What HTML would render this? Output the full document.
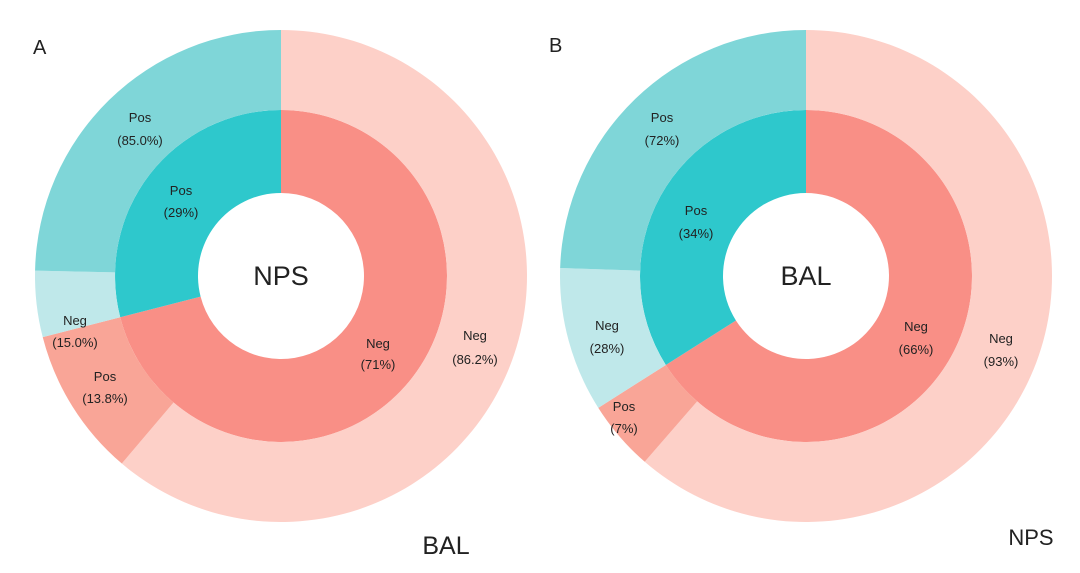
<!DOCTYPE html>
<html><head><meta charset="utf-8"><style>
body{margin:0;background:#fff}
svg{display:block}
text{font-family:"Liberation Sans",sans-serif;fill:#222}
.l{font-size:13px;text-anchor:middle}
.c{font-size:27px;text-anchor:middle}
</style></head><body>
<svg id="s" width="1080" height="573" viewBox="0 0 1080 573">
<g id="g"></g>
<text x="33" y="54" style="font-size:20px">A</text>
<text x="549" y="52" style="font-size:20px">B</text>
<text class="c" x="281" y="285">NPS</text>
<text class="c" x="806" y="285">BAL</text>
<text class="c" x="446" y="554" style="font-size:25px">BAL</text>
<text class="c" x="1031" y="545" style="font-size:22px">NPS</text>
<text class="l" x="140" y="122">Pos</text><text class="l" x="140" y="145">(85.0%)</text>
<text class="l" x="181" y="195">Pos</text><text class="l" x="181" y="217">(29%)</text>
<text class="l" x="75" y="325">Neg</text><text class="l" x="75" y="347">(15.0%)</text>
<text class="l" x="105" y="381">Pos</text><text class="l" x="105" y="403">(13.8%)</text>
<text class="l" x="378" y="348">Neg</text><text class="l" x="378" y="369">(71%)</text>
<text class="l" x="475" y="340">Neg</text><text class="l" x="475" y="364">(86.2%)</text>
<text class="l" x="662" y="122">Pos</text><text class="l" x="662" y="145">(72%)</text>
<text class="l" x="696" y="215">Pos</text><text class="l" x="696" y="238">(34%)</text>
<text class="l" x="607" y="330">Neg</text><text class="l" x="607" y="353">(28%)</text>
<text class="l" x="624" y="411">Pos</text><text class="l" x="624" y="433">(7%)</text>
<text class="l" x="916" y="331">Neg</text><text class="l" x="916" y="354">(66%)</text>
<text class="l" x="1001" y="343">Neg</text><text class="l" x="1001" y="366">(93%)</text>
</svg>
<script>
var g=document.getElementById('g');
function arc(cx,cy,r0,r1,a0,a1,col){
 function p(r,a){a=a*Math.PI/180;return [cx+r*Math.sin(a),cy-r*Math.cos(a)];}
 var L=(a1-a0)>180?1:0;
 var A=p(r1,a0),B=p(r1,a1),C=p(r0,a1),D=p(r0,a0);
 var d='M'+A+' A'+r1+' '+r1+' 0 '+L+' 1 '+B+' L'+C+' A'+r0+' '+r0+' 0 '+L+' 0 '+D+'Z';
 var e=document.createElementNS('http://www.w3.org/2000/svg','path');
 e.setAttribute('d',d);e.setAttribute('fill',col);g.appendChild(e);
}
function chart(cx,inNeg,outNegNeg,outPosNeg){
 var cy=276,a=inNeg*360;
 arc(cx,cy,83,166,0,a,'#f98f86');
 arc(cx,cy,83,166,a,360,'#2ec8cc');
 var b=a*outNegNeg;
 arc(cx,cy,166,246,0,b,'#fdd0c8');
 arc(cx,cy,166,246,b,a,'#f9a597');
 var c=a+(360-a)*outPosNeg;
 arc(cx,cy,166,246,a,c,'#bfe8ea');
 arc(cx,cy,166,246,c,360,'#7fd6d8');
}
chart(281,0.71,0.862,0.15);
chart(806,0.66,0.93,0.28);
</script>
</body></html>
